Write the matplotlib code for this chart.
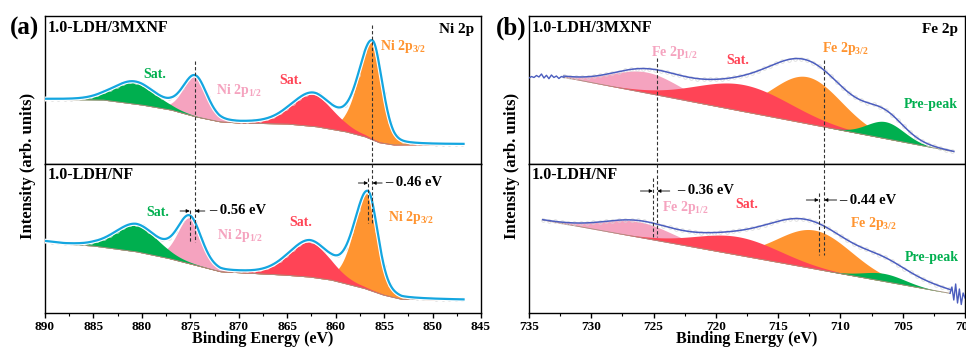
import numpy as np
import matplotlib
matplotlib.use("Agg")
import matplotlib.pyplot as plt
import matplotlib.patheffects as pe
from matplotlib.ticker import MultipleLocator

plt.rcParams['font.family'] = ['Liberation Serif', 'DejaVu Serif']
plt.rcParams['font.weight'] = 'bold'
plt.rcParams['mathtext.fontset'] = 'custom'
plt.rcParams['mathtext.rm'] = 'Liberation Serif:bold'
plt.rcParams['mathtext.default'] = 'rm'

GREEN = '#00AF4F'
PINK = '#F5A3BF'
RED = '#FF4456'
ORANGE = '#FF9430'
CYAN = '#14A6E0'
BLUE = '#4B5DBE'

# ---------------- Ni 2p (panel a) ----------------
# component order: Ni 2p1/2, Ni 2p3/2, Sat.(2p1/2), Sat.(2p3/2)
ni_colors = [PINK, ORANGE, GREEN, RED]
ni_eta = [0.2, 0.25, 0.2, 0.25]
ni_fwhm_hi = [3.0, 3.4, 5.2, 5.2]
ni_fwhm_lo = [2.8, 2.4, 5.2, 5.0]

# 1.0-LDH/3MXNF
ni_3mx_range = [890.0, 846.8]
ni_3mx_center = [874.50, 856.20, 880.8, 862.4]
ni_3mx_height = [40, 98, 22, 32]
ni_3mx_bg_x = [890, 884, 880, 877, 874.5, 872, 870, 865, 862, 859, 857, 855.5, 854, 846.8]
ni_3mx_bg_y = [64.7, 64, 59, 54, 47.3, 42.3, 41, 40, 37.3, 32.3, 27.3, 21.3, 19, 19.5]

# 1.0-LDH/NF
ni_nf_range = [890.0, 846.8]
ni_nf_center = [875.06, 856.66, 880.6, 862.7]
ni_nf_height = [46, 97, 27, 35]
ni_nf_bg_x = [890, 888, 885, 880.6, 877.3, 873.9, 871.9, 865.4, 862.7, 860.5, 857.1, 855.1, 853.2, 846.8]
ni_nf_bg_y = [71.5, 69, 67, 61.3, 54.7, 46.3, 41.3, 38, 36, 33, 24.7, 18, 13.7, 13]

# ---------------- Fe 2p (panel b) ----------------
# component order: Fe 2p1/2, Fe 2p3/2, Sat., Pre-peak
fe_colors = [PINK, ORANGE, RED, GREEN]

fe_3mx_range = [732.2, 700.9]
fe_3mx_center = [725.6, 712.7, 717.8, 706.4]
fe_3mx_height = [21, 47, 27, 17]
fe_3mx_fwhm = [6.5, 6.5, 9.0, 3.5]
fe_3mx_bg_x = [732.2, 700.9]
fe_3mx_bg_y = [86.7, 12.3]
fe_3mx_extra_center = [709.0]
fe_3mx_extra_height = [12]
fe_3mx_extra_fwhm = [7.0]
fe_3mx_noise_x = [735.0, 734.8, 734.6, 734.4, 734.2, 734.0, 733.8, 733.6,
                  733.4, 733.2, 733.0, 732.8, 732.6, 732.4, 732.2]
fe_3mx_noise_y = [86.0, 87.5, 86.5, 88.5, 87.0, 90.0, 86.0, 88.7,
                  85.3, 89.0, 86.5, 88.0, 85.5, 87.5, 86.7]

fe_nf_range = [733.9, 701.2]
fe_nf_center = [726.2, 712.1, 718.2, 706.5]
fe_nf_height = [15.6, 38.8, 18.5, 8]
fe_nf_fwhm = [6.5, 7.0, 8.0, 4.0]
fe_nf_bg_x = [733.9, 701.2]
fe_nf_bg_y = [93.0, 19.7]
fe_nf_extra_center = [706.0, 714.5]
fe_nf_extra_height = [10, 5]
fe_nf_extra_fwhm = [8.0, 5.0]
fe_nf_noise_x = [701.2, 701.05, 700.9, 700.75, 700.6, 700.45, 700.3, 700.15, 700.0]
fe_nf_noise_y = [19.7, 26.0, 13.0, 29.0, 10.0, 24.0, 8.5, 20.0, 15.0]

# marked peak positions (dashed lines)
ni_peak_3mx = [874.50, 856.20]
ni_peak_nf = [875.06, 856.66]
fe_peak_3mx = [724.70, 711.30]
fe_peak_nf = [725.06, 711.74]


def peak(x, c, h, w_hi, w_lo, eta):
    w = np.where(x >= c, w_hi, w_lo)
    d2 = (x - c) ** 2 / w ** 2
    return h * ((1 - eta) * np.exp(-4 * np.log(2) * d2) + eta / (1 + 4 * d2))


def spectrum(ax, xr, bg_x, bg_y, centers, heights, w_hi, w_lo, eta, colors,
             line_color, lw, outline, extra=None):
    x = np.linspace(xr[0], xr[1], 900)
    bg = np.interp(x, bg_x[::-1], bg_y[::-1])
    comps = [peak(x, c, h, a, b, e) for c, h, a, b, e in zip(centers, heights, w_hi, w_lo, eta)]
    total = bg + np.sum(comps, axis=0)
    if extra is not None:
        for c, h, w in zip(*extra):
            total = total + peak(x, c, h, w, w, 0.0)
    for comp, col in zip(comps, colors):
        ax.fill_between(x, bg, bg + comp, color=col, lw=0, zorder=2)
    ax.plot(x, bg, color='#A89080', lw=0.6, zorder=2.5)
    ax.plot(x[::14], total[::14], 'o', ms=2.6, mfc='none', mec='#D8D8D8', mew=0.5, zorder=2.7)
    effects = [pe.withStroke(linewidth=3.2, foreground='white')] if outline else None
    ax.plot(x, total, color=line_color, lw=lw, zorder=3, path_effects=effects)
    return x, total


fig = plt.figure(figsize=(9.66, 3.47), dpi=100)
axes = {}
for key, left in (('ni', 45 / 966), ('fe', 529 / 966)):
    top = fig.add_axes([left, 1 - 164 / 347, 436 / 966, 148 / 347])
    bot = fig.add_axes([left, 1 - 313 / 347, 436 / 966, 149 / 347])
    axes[key] = (top, bot)

for key, (top, bot) in axes.items():
    xl = (890, 845) if key == 'ni' else (735, 700)
    for ax, ylim in ((top, 148), (bot, 149)):
        ax.set_xlim(*xl)
        ax.set_ylim(0, ylim)
        ax.set_yticks([])
        for s in ax.spines.values():
            s.set_linewidth(1.0)
    top.tick_params(axis='x', which='both', bottom=False, labelbottom=False)
    bot.xaxis.set_major_locator(MultipleLocator(5))
    bot.xaxis.set_minor_locator(MultipleLocator(2.5))
    bot.tick_params(axis='x', which='major', direction='out', length=3.5, width=1.0,
                    labelsize=9.5, pad=2)
    bot.tick_params(axis='x', which='minor', direction='out', length=2, width=0.8)
    for lab in bot.get_xticklabels():
        lab.set_fontweight('bold')

# ---- panel a ----
a_top, a_bot = axes['ni']
spectrum(a_top, ni_3mx_range, ni_3mx_bg_x, ni_3mx_bg_y, ni_3mx_center, ni_3mx_height,
         ni_fwhm_hi, ni_fwhm_lo, ni_eta, ni_colors, CYAN, 1.6, True)
spectrum(a_bot, ni_nf_range, ni_nf_bg_x, ni_nf_bg_y, ni_nf_center, ni_nf_height,
         ni_fwhm_hi, ni_fwhm_lo, ni_eta, ni_colors, CYAN, 1.6, True)

# ---- panel b ----
b_top, b_bot = axes['fe']
n = len(fe_3mx_center)
spectrum(b_top, fe_3mx_range, fe_3mx_bg_x, fe_3mx_bg_y, fe_3mx_center, fe_3mx_height,
         fe_3mx_fwhm, fe_3mx_fwhm, [0.0] * n, fe_colors, BLUE, 1.1, False,
         extra=(fe_3mx_extra_center, fe_3mx_extra_height, fe_3mx_extra_fwhm))
b_top.plot(fe_3mx_noise_x, fe_3mx_noise_y, color=BLUE, lw=1.0, zorder=3)
spectrum(b_bot, fe_nf_range, fe_nf_bg_x, fe_nf_bg_y, fe_nf_center, fe_nf_height,
         fe_nf_fwhm, fe_nf_fwhm, [0.0] * n, fe_colors, BLUE, 1.1, False,
         extra=(fe_nf_extra_center, fe_nf_extra_height, fe_nf_extra_fwhm))
b_bot.plot(fe_nf_noise_x, fe_nf_noise_y, color=BLUE, lw=1.0, zorder=3)

# dashed reference lines and shifts
dash = dict(color='#333333', lw=0.8, ls=(0, (3, 2)), zorder=4)


def shift_marks(top, bot, p_top, p_bot, top_starts, bot_ends, bot_starts, y_arrow, text_x):
    for p, ys in zip(p_top, top_starts):
        top.plot([p, p], [ys, 0], **dash)
    for pt, pb, ye, ysb, ya, tx in zip(p_top, p_bot, bot_ends, bot_starts, y_arrow, text_x):
        bot.plot([pt, pt], [149, ye], **dash)
        bot.plot([pb, pb], [ysb, ye], **dash)
        hi, lo = max(pt, pb), min(pt, pb)
        ap = dict(arrowstyle='-|>', lw=0.6, color='black', mutation_scale=5, shrinkA=0, shrinkB=0)
        bot.annotate('', xy=(hi, ya), xytext=(hi + 1.0, ya), arrowprops=ap)
        bot.annotate('', xy=(lo, ya), xytext=(lo - 1.0, ya), arrowprops=ap)
        bot.text(tx, ya, f'\u2013 {abs(pb - pt):.2f} eV', fontsize=10.5, ha='left', va='center')


shift_marks(a_top, a_bot, ni_peak_3mx, ni_peak_nf, [103, 139], [71, 90], [103, 135],
            [102, 130], [873.1, 854.9])
shift_marks(b_top, b_bot, fe_peak_3mx, fe_peak_nf, [106, 104], [76, 58], [135, 120],
            [122, 113], [723.1, 710.1])

# labels
tk = dict(fontsize=10, ha='left', va='center')
a_top.text(879.9, 90, 'Sat.', color=GREEN, **tk)
a_top.text(872.4, 74, 'Ni 2p$_{1/2}$', color=PINK, **tk)
a_top.text(865.8, 84, 'Sat.', color=RED, **tk)
a_top.text(855.4, 118, 'Ni 2p$_{3/2}$', color=ORANGE, **tk)
a_bot.text(879.5, 100, 'Sat.', color=GREEN, **tk)
a_bot.text(872.2, 77, 'Ni 2p$_{1/2}$', color=PINK, **tk)
a_bot.text(864.8, 90, 'Sat.', color=RED, **tk)
a_bot.text(854.6, 95, 'Ni 2p$_{3/2}$', color=ORANGE, **tk)

b_top.text(725.2, 112, 'Fe 2p$_{1/2}$', color=PINK, **tk)
b_top.text(719.2, 104, 'Sat.', color=RED, **tk)
b_top.text(711.5, 116, 'Fe 2p$_{3/2}$', color=ORANGE, **tk)
b_top.text(704.9, 60, 'Pre-peak', color=GREEN, **tk)
b_bot.text(724.35, 106, 'Fe 2p$_{1/2}$', color=PINK, **tk)
b_bot.text(718.4, 108, 'Sat.', color=RED, **tk)
b_bot.text(709.2, 90, 'Fe 2p$_{3/2}$', color=ORANGE, **tk)
b_bot.text(704.8, 56, 'Pre-peak', color=GREEN, **tk)

for top, bot, elem in ((a_top, a_bot, 'Ni 2p'), (b_top, b_bot, 'Fe 2p')):
    top.text(0.007, 0.92, '1.0-LDH/3MXNF', transform=top.transAxes, fontsize=11.5, va='center')
    bot.text(0.007, 0.925, '1.0-LDH/NF', transform=bot.transAxes, fontsize=11.5, va='center')
    top.text(0.984, 0.91, elem, transform=top.transAxes, fontsize=11, ha='right', va='center')

fig.text(0.025, 0.918, '(a)', fontsize=18, ha='center', va='center')
fig.text(0.529, 0.918, '(b)', fontsize=18, ha='center', va='center')
for xc in (0.029, 0.530):
    fig.text(xc, 0.522, 'Intensity (arb. units)', fontsize=12, rotation=90,
             ha='center', va='center')
for xc in (0.272, 0.773):
    fig.text(xc, 0.024, 'Binding Energy (eV)', fontsize=11.5, ha='center', va='center')

fig.savefig('out.png', dpi=100)
